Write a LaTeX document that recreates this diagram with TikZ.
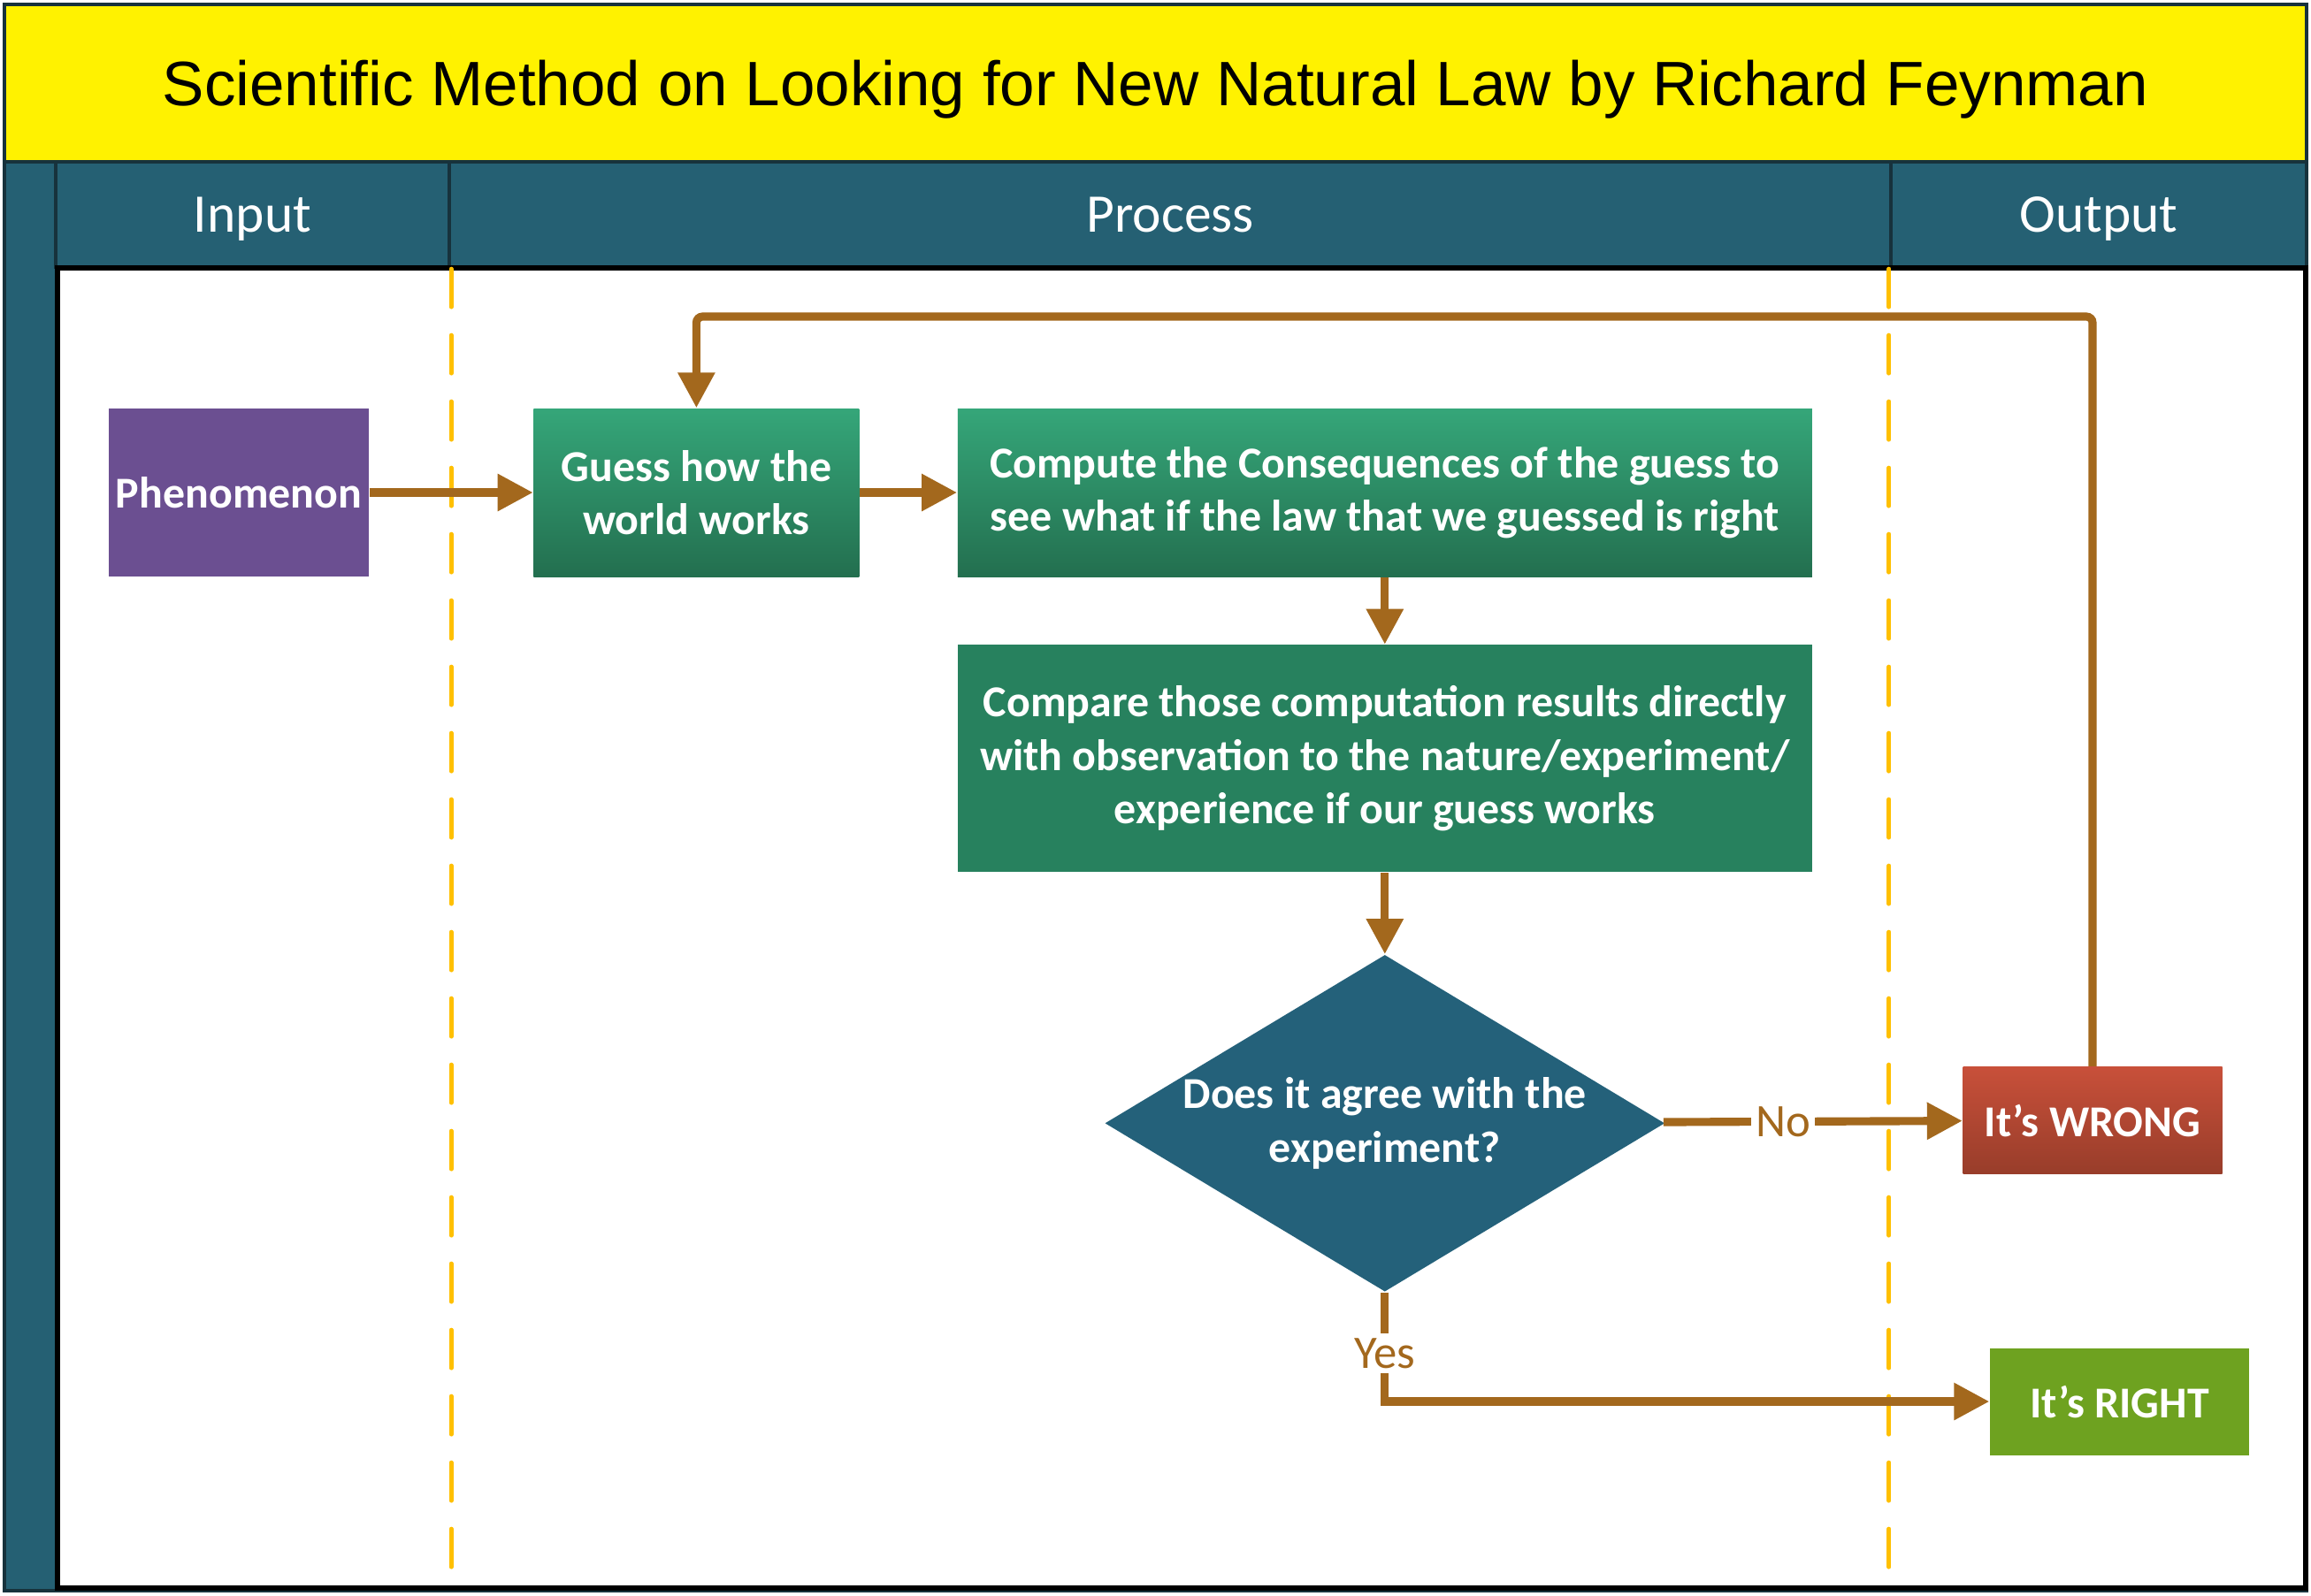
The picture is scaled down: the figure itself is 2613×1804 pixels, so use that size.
\documentclass[tikz,border=0pt]{standalone}
\usepackage{fontspec}
\setmainfont{Carlito}
\newfontfamily\titlefont{Liberation Sans}
\usetikzlibrary{arrows.meta,positioning,calc,shapes.geometric}
\definecolor{lanehead}{HTML}{256073}
\definecolor{laneline}{HTML}{17323C}
\definecolor{flowbrown}{HTML}{A3681D}
\definecolor{lanedash}{HTML}{FFC000}
\definecolor{phenpurple}{HTML}{6B4F91}
\definecolor{greentop}{HTML}{35A679}
\definecolor{greenbot}{HTML}{236F4F}
\definecolor{comparegreen}{HTML}{27815E}
\definecolor{decteal}{HTML}{24617A}
\definecolor{wrongtop}{HTML}{C8503A}
\definecolor{wrongbot}{HTML}{983D2A}
\definecolor{rightgreen}{HTML}{6EA220}

\begin{document}
\begin{tikzpicture}[x=0.1mm,y=-0.1mm,>=Latex,
  every node/.style={font=\fontsize{14.2}{17.2}\selectfont\bfseries,text=white},
  box/.style={rectangle,inner sep=0pt,align=center},
  flow/.style={draw=flowbrown,line width=2.6pt,-{Triangle[length=4mm,width=4mm]}},
  lanehdr/.style={rectangle,fill=lanehead,draw=laneline,line width=1.2pt,minimum height=11.9mm,text height=14pt,text depth=2.7pt,font=\fontsize{17.5}{20}\selectfont},
  lane/.style={draw=lanedash,line width=1.4pt,dash pattern=on 4.3mm off 3.2mm,line cap=round},
  answer/.style={fill=white,inner sep=1.5pt,text=flowbrown,font=\fontsize{15}{18}\selectfont}]
\useasboundingbox (0,0) rectangle (2613,1804);
% frame, title and lane headers
\fill[lanehead,draw=laneline,line width=1pt] (5,5) rectangle (2608,1799);
\node[box,fill=yellow,draw=laneline,line width=1pt,minimum width=260.3mm,minimum height=17.8mm,text height=14.5pt,text depth=0pt,text=black,font=\titlefont\fontsize{20.2}{24}\selectfont] (title) at (1306.5,94) {Scientific Method on Looking for New Natural Law by Richard Feynman};
\node[lanehdr,minimum width=44.5mm] (inp) at (285.5,242.5) {Input};
\node[lanehdr,minimum width=163mm] (proc) at (1323,242.5) {Process};
\node[lanehdr,minimum width=47mm] (outp) at (2373,242.5) {Output};
\node[draw=black,line width=1.5pt,fill=white,minimum width=254.2mm,minimum height=149.3mm,inner sep=0pt] (body) at (1336,1049.5) {};
\draw[lane] (inp.south east) -- (inp.south east |- body.south);
\draw[lane] (outp.south west) -- (outp.south west |- body.south);
% flow
\node[box,fill=phenpurple,minimum width=29.4mm,minimum height=19mm] (phen) at (270,557) {Phenomenon};
\node[box,top color=greentop,bottom color=greenbot,minimum width=36.8mm,minimum height=19mm,right=18.5mm of phen] (guess) {Guess how the\\world works};
\node[box,top color=greentop,bottom color=greenbot,minimum width=96.6mm,minimum height=19mm,right=11mm of guess] (comp) {Compute the Consequences of the guess to\\see what if the law that we guessed is right};
\node[box,fill=comparegreen,minimum width=96.6mm,minimum height=25.7mm,below=7.6mm of comp] (cmp) {Compare those computation results directly\\with observation to the nature/experiment/\\experience if our guess works};
\node[diamond,fill=decteal,aspect=1.66,inner sep=0pt,minimum width=63.3mm,minimum height=38.1mm,align=center,below=9.2mm of cmp] (dec) {Does it agree with the\\experiment?};
\node[box,top color=wrongtop,bottom color=wrongbot,minimum width=29.3mm,minimum height=12.1mm] (wrong) at (2366,1267) {It’s WRONG};
\node[box,fill=rightgreen,minimum width=29.3mm,minimum height=12.1mm] (correct) at (2396.5,1585) {It’s RIGHT};
\coordinate (looptop) at (0,358);
\draw[flow] (phen) -- (guess);
\draw[flow] (guess) -- (comp);
\draw[flow] (comp) -- (cmp);
\draw[flow] (cmp) -- (dec);
\draw[flow] (dec) -- node[answer,pos=0.4] {No} (wrong);
\draw[flow] (dec.south) |- node[answer,pos=0.28] {Yes} (correct.west);
\draw[flow,rounded corners=2pt] (wrong.north) |- (guess.north |- looptop) -- (guess.north);
\end{tikzpicture}
\end{document}
